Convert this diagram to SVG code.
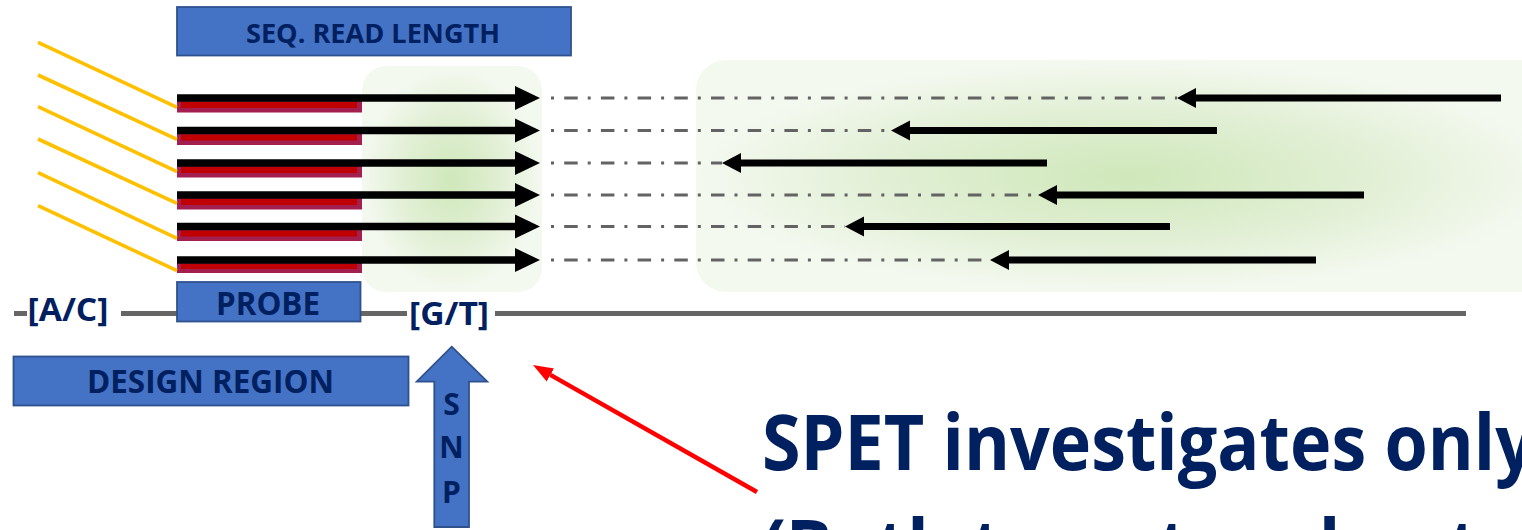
<svg xmlns="http://www.w3.org/2000/svg" width="1522" height="530" viewBox="0 0 1522 530">
  <style>
    .box { fill: #4472C4; stroke: #2F528F; stroke-width: 1.8; }
    .lbl { font-family: "Open Sans", "Liberation Sans", sans-serif; font-weight: 700; fill: #002060; }
    .genome { stroke: #666666; stroke-width: 5; fill: none; }
    .tail { stroke: #FFC000; stroke-width: 3.6; }
    .bar { fill: #A21F4F; }
    .barcore { fill: #C00000; }
    .fwd { stroke: #000000; stroke-width: 7.5; marker-end: url(#headFwd); }
    .rev { stroke: #000000; stroke-width: 6.8; marker-end: url(#headRev); }
    .gap { stroke: #636363; stroke-width: 2.8; stroke-dasharray: 3 10.2 13.5 10; stroke-dashoffset: 26.7; }
    .glow { fill: url(#glow); }
  </style>
  <defs>
    <radialGradient id="glow" cx="50%" cy="50%" r="50%">
      <stop offset="0" stop-color="#CFE7BA"/>
      <stop offset="0.55" stop-color="#E1EFD4"/>
      <stop offset="1" stop-color="#F4F9F0"/>
    </radialGradient>
    <marker id="headFwd" markerUnits="userSpaceOnUse" markerWidth="27" markerHeight="27" viewBox="0 -13 27 26" refX="0" refY="0" orient="auto">
      <path d="M0,-12 L25,0 L0,12 Z" fill="#000000"/>
    </marker>
    <marker id="headRev" markerUnits="userSpaceOnUse" markerWidth="22" markerHeight="22" viewBox="0 -11 22 22" refX="0" refY="0" orient="auto">
      <path d="M0,-10 L19,0 L0,10 Z" fill="#000000"/>
    </marker>
    <marker id="headRed" markerUnits="userSpaceOnUse" markerWidth="22" markerHeight="18" viewBox="0 -9 22 18" refX="0" refY="0" orient="auto">
      <path d="M0,-7.5 L20,0 L0,7.5 Z" fill="#FF0000"/>
    </marker>
  </defs>

  <!-- shaded capture windows -->
  <g id="window-near">
    <rect class="glow" x="362" y="66" width="180" height="226" rx="24"/>
  </g>
  <g id="window-far">
    <rect class="glow" x="696" y="60" width="864" height="232" rx="30"/>
  </g>

  <!-- genomic line with alleles -->
  <g id="genome">
    <line class="genome" x1="14" y1="313.5" x2="27" y2="313.5"/>
    <line class="genome" x1="121" y1="313.5" x2="407" y2="313.5"/>
    <line class="genome" x1="495" y1="313.5" x2="1466" y2="313.5"/>
  </g>
  <g id="allele-ac">
    <text class="lbl" x="27.5" y="321" font-size="32" textLength="81" lengthAdjust="spacingAndGlyphs">[A/C]</text>
  </g>
  <g id="allele-gt">
    <text class="lbl" x="409" y="325" font-size="32" textLength="80" lengthAdjust="spacingAndGlyphs">[G/T]</text>
  </g>

  <!-- labelled boxes -->
  <g id="seq-read-length">
    <rect class="box" x="177" y="7" width="394" height="48.5"/>
    <text class="lbl" x="246" y="42.5" font-size="27" textLength="254" lengthAdjust="spacingAndGlyphs">SEQ. READ LENGTH</text>
  </g>
  <g id="probe">
    <rect class="box" x="177" y="282" width="183.5" height="39.5"/>
    <text class="lbl" x="216" y="315" font-size="32" textLength="104" lengthAdjust="spacingAndGlyphs">PROBE</text>
  </g>
  <g id="design-region">
    <rect class="box" x="13.5" y="356.5" width="395" height="49"/>
    <text class="lbl" x="87" y="393" font-size="32" textLength="247" lengthAdjust="spacingAndGlyphs">DESIGN REGION</text>
  </g>
  <g id="snp">
    <path class="box" d="M451.7,346.7 L487.3,381.7 L469,381.7 L469,527 L434.3,527 L434.3,381.7 L416.7,381.7 Z"/>
    <text class="lbl" x="451.5" y="415" font-size="30" text-anchor="middle">S</text>
    <text class="lbl" x="451.5" y="458.3" font-size="30" text-anchor="middle">N</text>
    <text class="lbl" x="451.5" y="503.3" font-size="30" text-anchor="middle">P</text>
  </g>

  <!-- probe bodies -->
  <g id="probes">
    <rect class="bar" x="177" y="98" width="185" height="14.5"/>
    <rect class="barcore" x="181" y="102" width="176" height="6"/>
    <rect class="bar" x="177" y="130.5" width="185" height="14.5"/>
    <rect class="barcore" x="181" y="134.5" width="176" height="6"/>
    <rect class="bar" x="177" y="163" width="185" height="14.5"/>
    <rect class="barcore" x="181" y="167" width="176" height="6"/>
    <rect class="bar" x="177" y="195" width="185" height="14.5"/>
    <rect class="barcore" x="181" y="199" width="176" height="6"/>
    <rect class="bar" x="177" y="226.5" width="185" height="14.5"/>
    <rect class="barcore" x="181" y="230.5" width="176" height="6"/>
    <rect class="bar" x="177" y="260" width="185" height="13"/>
    <rect class="barcore" x="181" y="264" width="176" height="5"/>
  </g>

  <g id="connectors">
    <!-- adapter tails -->
    <line class="tail" x1="38" y1="42.3" x2="177" y2="107.3"/>
    <line class="tail" x1="38" y1="75" x2="177" y2="139.3"/>
    <line class="tail" x1="38" y1="106.7" x2="177" y2="171.7"/>
    <line class="tail" x1="38" y1="139" x2="177" y2="203.3"/>
    <line class="tail" x1="38" y1="172.7" x2="177" y2="238.3"/>
    <line class="tail" x1="38" y1="205.7" x2="177" y2="270.7"/>

    <!-- unsequenced insert between read pairs -->
    <line class="gap" x1="541" y1="98" x2="1177" y2="98"/>
    <line class="gap" x1="541" y1="130.5" x2="891" y2="130.5"/>
    <line class="gap" x1="541" y1="163" x2="722" y2="163"/>
    <line class="gap" x1="541" y1="195" x2="1038" y2="195"/>
    <line class="gap" x1="541" y1="226.5" x2="845" y2="226.5"/>
    <line class="gap" x1="541" y1="260" x2="990" y2="260"/>

    <!-- forward reads -->
    <line class="fwd" x1="177" y1="98" x2="515" y2="98"/>
    <line class="fwd" x1="177" y1="130.5" x2="515" y2="130.5"/>
    <line class="fwd" x1="177" y1="163" x2="515" y2="163"/>
    <line class="fwd" x1="177" y1="195" x2="515" y2="195"/>
    <line class="fwd" x1="177" y1="226.5" x2="515" y2="226.5"/>
    <line class="fwd" x1="177" y1="260" x2="515" y2="260"/>

    <!-- reverse reads -->
    <line class="rev" x1="1501" y1="98" x2="1196" y2="98"/>
    <line class="rev" x1="1217" y1="130.5" x2="910" y2="130.5"/>
    <line class="rev" x1="1047" y1="163" x2="741" y2="163"/>
    <line class="rev" x1="1364" y1="195" x2="1057" y2="195"/>
    <line class="rev" x1="1170" y1="226.5" x2="864" y2="226.5"/>
    <line class="rev" x1="1316" y1="260" x2="1009" y2="260"/>

    <!-- pointer to the SNP -->
    <line x1="757" y1="492" x2="550.4" y2="374.9" stroke="#FF0000" stroke-width="4.5" marker-end="url(#headRed)"/>
  </g>

  <g id="statement">
    <text class="lbl" x="762" y="470" font-size="77" textLength="773" lengthAdjust="spacingAndGlyphs">SPET investigates only</text>
    <text class="lbl" x="762" y="575" font-size="77" textLength="717" lengthAdjust="spacingAndGlyphs">(Both target and not</text>
  </g>
</svg>
